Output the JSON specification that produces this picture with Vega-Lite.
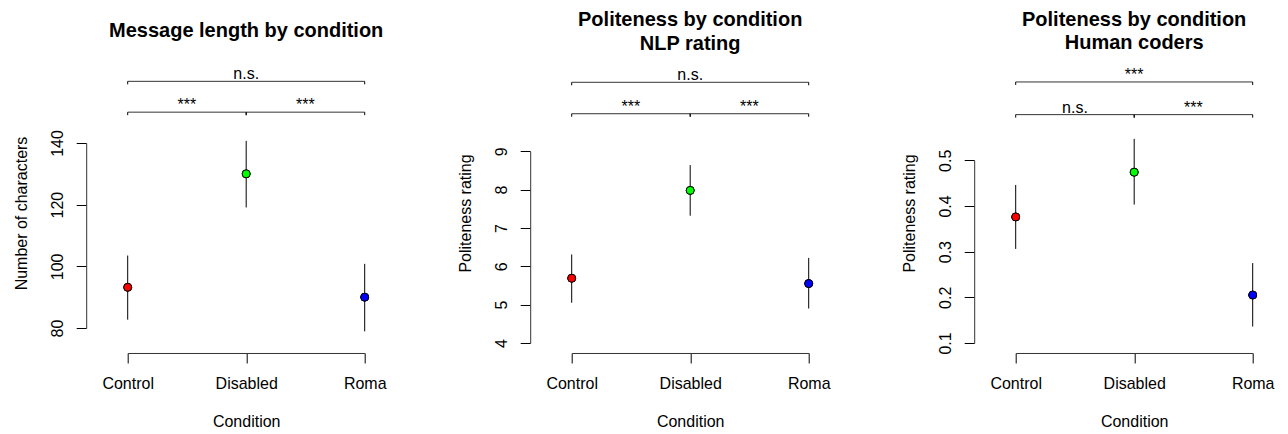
{
  "$schema": "https://vega.github.io/schema/vega-lite/v6.json",
  "background": "white",
  "padding": {"left": 13.7, "top": 9, "right": 5, "bottom": 0},
  "bounds": "flush",
  "spacing": 207,
  "config": {
    "view": {"stroke": null},
    "font": "Liberation Sans",
    "axis": {
      "grid": false,
      "labelFlush": false,
      "labelOverlap": false,
      "domainColor": "#333333",
      "tickColor": "black",
      "labelColor": "black",
      "titleColor": "black",
      "labelFont": "Liberation Sans",
      "titleFont": "Liberation Sans",
      "labelFontSize": 16,
      "titleFontSize": 16,
      "titleFontWeight": "normal",
      "tickSize": 10,
      "domainWidth": 1,
      "tickWidth": 1
    },
    "axisX": {"labelPadding": 13, "titlePadding": 22, "labelAngle": 0},
    "axisY": {"labelPadding": 13.5, "titlePadding": 20, "labelAngle": -90, "labelAlign": "center", "labelBaseline": "alphabetic", "offset": 41.5, "titleY": 70},
    "title": {"font": "Liberation Sans", "fontSize": 20, "fontWeight": "bold", "color": "black", "frame": "group", "anchor": "middle", "lineHeight": 23.3}
  },
  "datasets": {
    "msg": [
      {"condition": "Control", "cond": 1, "mean": 93.2, "lo": 82.7, "hi": 103.5},
      {"condition": "Disabled", "cond": 2, "mean": 130.0, "lo": 119.1, "hi": 140.7},
      {"condition": "Roma", "cond": 3, "mean": 90.0, "lo": 78.9, "hi": 100.8}
    ],
    "msg_brackets": [
      {"from": 1, "to": 3, "mid": 2, "level": 160, "label": "n.s."},
      {"from": 1, "to": 2, "mid": 1.5, "level": 150, "label": "***"},
      {"from": 2, "to": 3, "mid": 2.5, "level": 150, "label": "***"}
    ],
    "nlp": [
      {"condition": "Control", "cond": 1, "mean": 5.69, "lo": 5.05, "hi": 6.31},
      {"condition": "Disabled", "cond": 2, "mean": 7.98, "lo": 7.32, "hi": 8.64},
      {"condition": "Roma", "cond": 3, "mean": 5.55, "lo": 4.9, "hi": 6.22}
    ],
    "nlp_brackets": [
      {"from": 1, "to": 3, "mid": 2, "level": 10.8, "label": "n.s."},
      {"from": 1, "to": 2, "mid": 1.5, "level": 9.98, "label": "***"},
      {"from": 2, "to": 3, "mid": 2.5, "level": 9.98, "label": "***"}
    ],
    "human": [
      {"condition": "Control", "cond": 1, "mean": 0.376, "lo": 0.306, "hi": 0.446},
      {"condition": "Disabled", "cond": 2, "mean": 0.474, "lo": 0.403, "hi": 0.547},
      {"condition": "Roma", "cond": 3, "mean": 0.205, "lo": 0.136, "hi": 0.275}
    ],
    "human_brackets": [
      {"from": 1, "to": 3, "mid": 2, "level": 0.6715, "label": "***"},
      {"from": 1, "to": 2, "mid": 1.5, "level": 0.6, "label": "n.s."},
      {"from": 2, "to": 3, "mid": 2.5, "level": 0.6, "label": "***"}
    ]
  },
  "hconcat": [
    {
      "width": 237,
      "height": 210,
      "title": {"text": "Message length by condition", "offset": 25.4},
      "layer": [
        {
          "data": {"name": "msg"},
          "mark": {"type": "point", "filled": true, "stroke": "black", "strokeWidth": 1, "size": 64, "opacity": 1, "shape": "circle"},
          "encoding": {
            "x": {"field": "cond", "type": "quantitative", "scale": {"domain": [1, 3], "nice": false, "zero": false},
                  "axis": {"title": "Condition", "values": [1, 2, 3], "labelExpr": "datum.value == 1 ? 'Control' : datum.value == 2 ? 'Disabled' : 'Roma'"}},
            "y": {"field": "mean", "type": "quantitative", "scale": {"domain": [80, 140], "range": [185, 0], "nice": false, "zero": false},
                  "axis": {"title": "Number of characters", "values": [80, 90, 100, 110, 120, 130, 140], "labelExpr": "datum.value % 20 == 0 ? datum.label : ''"}},
            "fill": {"field": "condition", "type": "nominal", "scale": {"domain": ["Control", "Disabled", "Roma"], "range": ["#FF0000", "#00FF00", "#0000FF"]}, "legend": null}
          }
        },
        {
          "data": {"name": "msg_brackets"},
          "mark": {"type": "rule", "color": "#333333", "strokeWidth": 1},
          "encoding": {
            "x": {"field": "from", "type": "quantitative"},
            "x2": {"field": "to"},
            "y": {"field": "level", "type": "quantitative"}
          }
        },
        {
          "data": {"name": "msg_brackets"},
          "mark": {"type": "point", "shape": "M0,0L0,1", "filled": false, "stroke": "black", "strokeWidth": 1, "size": 36, "opacity": 1},
          "encoding": {
            "x": {"field": "from", "type": "quantitative"},
            "y": {"field": "level", "type": "quantitative"}
          }
        },
        {
          "data": {"name": "msg_brackets"},
          "mark": {"type": "point", "shape": "M0,0L0,1", "filled": false, "stroke": "black", "strokeWidth": 1, "size": 36, "opacity": 1},
          "encoding": {
            "x": {"field": "to", "type": "quantitative"},
            "y": {"field": "level", "type": "quantitative"}
          }
        },
        {
          "data": {"name": "msg_brackets"},
          "mark": {"type": "text", "fontSize": 16, "font": "Liberation Sans", "color": "black", "baseline": "alphabetic", "align": "center", "dy": -2},
          "encoding": {
            "x": {"field": "mid", "type": "quantitative"},
            "y": {"field": "level", "type": "quantitative"},
            "text": {"field": "label"}
          }
        },
        {
          "data": {"name": "msg"},
          "mark": {"type": "rule", "color": "black", "strokeWidth": 1},
          "encoding": {
            "x": {"field": "cond", "type": "quantitative"},
            "y": {"field": "lo", "type": "quantitative"},
            "y2": {"field": "hi"}
          }
        },
        {
          "data": {"name": "msg"},
          "mark": {"type": "point", "filled": true, "stroke": "black", "strokeWidth": 1, "size": 64, "opacity": 1, "shape": "circle"},
          "encoding": {
            "x": {"field": "cond", "type": "quantitative"},
            "y": {"field": "mean", "type": "quantitative"},
            "fill": {"field": "condition", "type": "nominal", "legend": null}
          }
        }
      ]
    },
    {
      "width": 237,
      "height": 210,
      "title": {"text": ["Politeness by condition", "NLP rating"], "offset": 13.7},
      "layer": [
        {
          "data": {"name": "nlp"},
          "mark": {"type": "point", "filled": true, "stroke": "black", "strokeWidth": 1, "size": 64, "opacity": 1, "shape": "circle"},
          "encoding": {
            "x": {"field": "cond", "type": "quantitative", "scale": {"domain": [1, 3], "nice": false, "zero": false},
                  "axis": {"title": "Condition", "values": [1, 2, 3], "labelExpr": "datum.value == 1 ? 'Control' : datum.value == 2 ? 'Disabled' : 'Roma'"}},
            "y": {"field": "mean", "type": "quantitative", "scale": {"domain": [4, 9], "range": [200, 8.3], "nice": false, "zero": false},
                  "axis": {"title": "Politeness rating", "values": [4, 5, 6, 7, 8, 9], "format": "d"}},
            "fill": {"field": "condition", "type": "nominal", "scale": {"domain": ["Control", "Disabled", "Roma"], "range": ["#FF0000", "#00FF00", "#0000FF"]}, "legend": null}
          }
        },
        {
          "data": {"name": "nlp_brackets"},
          "mark": {"type": "rule", "color": "#333333", "strokeWidth": 1},
          "encoding": {
            "x": {"field": "from", "type": "quantitative"},
            "x2": {"field": "to"},
            "y": {"field": "level", "type": "quantitative"}
          }
        },
        {
          "data": {"name": "nlp_brackets"},
          "mark": {"type": "point", "shape": "M0,0L0,1", "filled": false, "stroke": "black", "strokeWidth": 1, "size": 36, "opacity": 1},
          "encoding": {
            "x": {"field": "from", "type": "quantitative"},
            "y": {"field": "level", "type": "quantitative"}
          }
        },
        {
          "data": {"name": "nlp_brackets"},
          "mark": {"type": "point", "shape": "M0,0L0,1", "filled": false, "stroke": "black", "strokeWidth": 1, "size": 36, "opacity": 1},
          "encoding": {
            "x": {"field": "to", "type": "quantitative"},
            "y": {"field": "level", "type": "quantitative"}
          }
        },
        {
          "data": {"name": "nlp_brackets"},
          "mark": {"type": "text", "fontSize": 16, "font": "Liberation Sans", "color": "black", "baseline": "alphabetic", "align": "center", "dy": -2},
          "encoding": {
            "x": {"field": "mid", "type": "quantitative"},
            "y": {"field": "level", "type": "quantitative"},
            "text": {"field": "label"}
          }
        },
        {
          "data": {"name": "nlp"},
          "mark": {"type": "rule", "color": "black", "strokeWidth": 1},
          "encoding": {
            "x": {"field": "cond", "type": "quantitative"},
            "y": {"field": "lo", "type": "quantitative"},
            "y2": {"field": "hi"}
          }
        },
        {
          "data": {"name": "nlp"},
          "mark": {"type": "point", "filled": true, "stroke": "black", "strokeWidth": 1, "size": 64, "opacity": 1, "shape": "circle"},
          "encoding": {
            "x": {"field": "cond", "type": "quantitative"},
            "y": {"field": "mean", "type": "quantitative"},
            "fill": {"field": "condition", "type": "nominal", "legend": null}
          }
        }
      ]
    },
    {
      "width": 237,
      "height": 210,
      "title": {"text": ["Politeness by condition", "Human coders"], "offset": 13.7},
      "layer": [
        {
          "data": {"name": "human"},
          "mark": {"type": "point", "filled": true, "stroke": "black", "strokeWidth": 1, "size": 64, "opacity": 1, "shape": "circle"},
          "encoding": {
            "x": {"field": "cond", "type": "quantitative", "scale": {"domain": [1, 3], "nice": false, "zero": false},
                  "axis": {"title": "Condition", "values": [1, 2, 3], "labelExpr": "datum.value == 1 ? 'Control' : datum.value == 2 ? 'Disabled' : 'Roma'"}},
            "y": {"field": "mean", "type": "quantitative", "scale": {"domain": [0.1, 0.5], "range": [200, 17.3], "nice": false, "zero": false},
                  "axis": {"title": "Politeness rating", "values": [0.1, 0.2, 0.3, 0.4, 0.5], "format": ".1f"}},
            "fill": {"field": "condition", "type": "nominal", "scale": {"domain": ["Control", "Disabled", "Roma"], "range": ["#FF0000", "#00FF00", "#0000FF"]}, "legend": null}
          }
        },
        {
          "data": {"name": "human_brackets"},
          "mark": {"type": "rule", "color": "#333333", "strokeWidth": 1},
          "encoding": {
            "x": {"field": "from", "type": "quantitative"},
            "x2": {"field": "to"},
            "y": {"field": "level", "type": "quantitative"}
          }
        },
        {
          "data": {"name": "human_brackets"},
          "mark": {"type": "point", "shape": "M0,0L0,1", "filled": false, "stroke": "black", "strokeWidth": 1, "size": 36, "opacity": 1},
          "encoding": {
            "x": {"field": "from", "type": "quantitative"},
            "y": {"field": "level", "type": "quantitative"}
          }
        },
        {
          "data": {"name": "human_brackets"},
          "mark": {"type": "point", "shape": "M0,0L0,1", "filled": false, "stroke": "black", "strokeWidth": 1, "size": 36, "opacity": 1},
          "encoding": {
            "x": {"field": "to", "type": "quantitative"},
            "y": {"field": "level", "type": "quantitative"}
          }
        },
        {
          "data": {"name": "human_brackets"},
          "mark": {"type": "text", "fontSize": 16, "font": "Liberation Sans", "color": "black", "baseline": "alphabetic", "align": "center", "dy": -2},
          "encoding": {
            "x": {"field": "mid", "type": "quantitative"},
            "y": {"field": "level", "type": "quantitative"},
            "text": {"field": "label"}
          }
        },
        {
          "data": {"name": "human"},
          "mark": {"type": "rule", "color": "black", "strokeWidth": 1},
          "encoding": {
            "x": {"field": "cond", "type": "quantitative"},
            "y": {"field": "lo", "type": "quantitative"},
            "y2": {"field": "hi"}
          }
        },
        {
          "data": {"name": "human"},
          "mark": {"type": "point", "filled": true, "stroke": "black", "strokeWidth": 1, "size": 64, "opacity": 1, "shape": "circle"},
          "encoding": {
            "x": {"field": "cond", "type": "quantitative"},
            "y": {"field": "mean", "type": "quantitative"},
            "fill": {"field": "condition", "type": "nominal", "legend": null}
          }
        }
      ]
    }
  ]
}
